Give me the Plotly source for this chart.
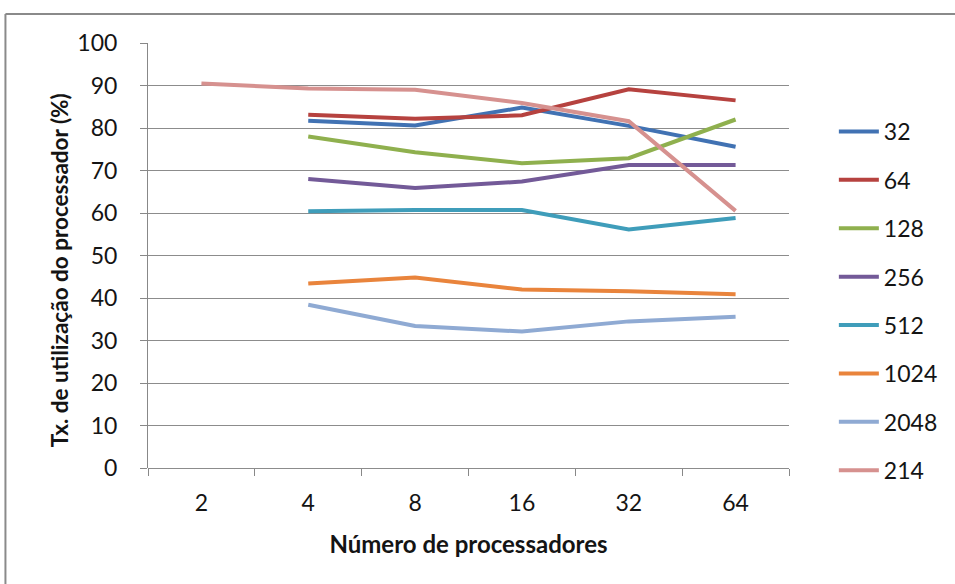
import plotly.graph_objects as go

# Number of processors (category axis)
processadores = ["2", "4", "8", "16", "32", "64"]

# Processor utilisation (%) per problem size
s32 = [None, 81.7, 80.6, 84.8, 80.5, 75.6]
s64 = [None, 83.1, 82.2, 83.0, 89.1, 86.5]
s128 = [None, 78.0, 74.3, 71.7, 72.9, 82.0]
s256 = [None, 68.0, 65.9, 67.4, 71.3, 71.3]
s512 = [None, 60.4, 60.7, 60.7, 56.1, 58.8]
s1024 = [None, 43.4, 44.8, 42.0, 41.6, 40.9]
s2048 = [None, 38.4, 33.4, 32.1, 34.5, 35.6]
s214 = [90.5, 89.3, 89.0, 85.9, 81.6, 60.5]

series_names = ["32", "64", "128", "256", "512", "1024", "2048", "214"]
series_values = [s32, s64, s128, s256, s512, s1024, s2048, s214]
series_colors = ["#4172B3", "#B6423F", "#8FB04E", "#735A98", "#3F9DBA",
                 "#E9843C", "#8FAAD3", "#D6918F"]

FONT = "Lato, Carlito, sans-serif"
TXT = "#141414"

fig = go.Figure()
for name, vals, col in zip(series_names, series_values, series_colors):
    fig.add_trace(go.Scatter(
        x=processadores, y=vals, name=name, mode="lines",
        line=dict(color=col, width=4),
        legendgroup=name,
    ))

W, H = 955, 584
L, R, T, B = 148, 164, 43, 116
pw, ph = W - L - R, H - T - B

def px_x(X):
    return (X - L) / pw

def px_y(Y):
    return (H - B - Y) / ph

fig.update_layout(
    width=W, height=H,
    margin=dict(l=L, r=R, t=T, b=B),
    paper_bgcolor="white", plot_bgcolor="white",
    font=dict(family=FONT, size=23, color=TXT),
    showlegend=True,
    legend=dict(
        x=px_x(836), y=px_y(110), xanchor="left", yanchor="top",
        font=dict(family=FONT, size=23, color=TXT),
        tracegroupgap=15.5, itemwidth=40,
        bgcolor="rgba(0,0,0,0)",
    ),
    xaxis=dict(
        type="category", range=[-0.5, 5.5],
        showgrid=False, showline=False, zeroline=False,
        ticks="outside", tickson="boundaries", ticklen=7,
        tickcolor="#888888", tickwidth=1,
        tickfont=dict(family=FONT, size=23, color=TXT),
        ticklabelstandoff=19,
        title=dict(text="<b>Número de processadores</b>",
                   font=dict(family=FONT, size=24, color=TXT),
                   standoff=21),
    ),
    yaxis=dict(
        range=[0, 100], dtick=10, tick0=0,
        showgrid=True, gridcolor="#8C8C8C", gridwidth=1,
        showline=True, linecolor="#888888", linewidth=1,
        zeroline=True, zerolinecolor="#8C8C8C", zerolinewidth=1,
        ticks="outside", ticklen=7, tickcolor="#888888",
        tickfont=dict(family=FONT, size=23, color=TXT),
        ticklabelstandoff=18,
    ),
    annotations=[
        dict(text="<b>Tx. de utilização do processador (%)</b>",
             textangle=-90, xref="paper", yref="paper",
             x=px_x(59), y=px_y(270), xanchor="center", yanchor="middle",
             showarrow=False, font=dict(family=FONT, size=22.5, color=TXT)),
    ],
    shapes=[
        # chart frame: top and left edges
        dict(type="line", xref="paper", yref="paper",
             x0=px_x(5), x1=px_x(W + 5), y0=px_y(14), y1=px_y(14),
             line=dict(color="#8A8A8A", width=2)),
        dict(type="line", xref="paper", yref="paper",
             x0=px_x(5), x1=px_x(5), y0=px_y(14), y1=px_y(H + 5),
             line=dict(color="#8A8A8A", width=2)),
    ],
)

fig.write_html("out.html")
